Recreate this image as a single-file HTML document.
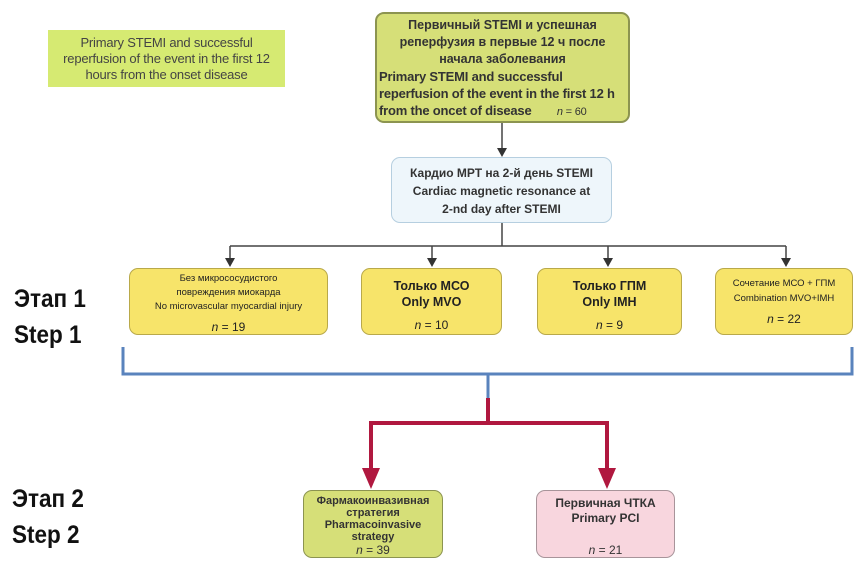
<!DOCTYPE html>
<html><head><meta charset="utf-8"><style>
body{margin:0;background:#fff;width:859px;height:572px;position:relative;overflow:hidden;font-family:"Liberation Sans","DejaVu Sans",sans-serif;}
.b{position:absolute;box-sizing:border-box;border-radius:9px;text-align:center;color:#222;}
.t{position:absolute;font-weight:bold;color:#111;font-size:25px;line-height:36px;transform:scaleX(0.9);transform-origin:left;}
</style></head><body>
<svg width="859" height="572" style="position:absolute;left:0;top:0">
<g stroke="#444" stroke-width="1.5" fill="none">
<line x1="502" y1="123" x2="502" y2="150"/>
<line x1="502" y1="223" x2="502" y2="246"/>
<line x1="230" y1="246" x2="786" y2="246"/>
<line x1="230" y1="246" x2="230" y2="260"/>
<line x1="432" y1="246" x2="432" y2="260"/>
<line x1="608" y1="246" x2="608" y2="260"/>
<line x1="786" y1="246" x2="786" y2="260"/>
</g>
<g fill="#333">
<path d="M497,148 L507,148 L502,157 Z"/>
<path d="M225,258 L235,258 L230,267 Z"/>
<path d="M427,258 L437,258 L432,267 Z"/>
<path d="M603,258 L613,258 L608,267 Z"/>
<path d="M781,258 L791,258 L786,267 Z"/>
</g>
<path d="M123,347 V374 H852 V347" stroke="#5a83bd" stroke-width="3" fill="none"/>
<line x1="488" y1="374" x2="488" y2="398" stroke="#5a83bd" stroke-width="3"/>
<path d="M488,398 V423 M371,423 H607 M371,421 V472 M607,421 V472" stroke="#b0183f" stroke-width="4" fill="none"/>
<path d="M362,468 L380,468 L371,489 Z M598,468 L616,468 L607,489 Z" fill="#b0183f"/>
</svg>
<div class="b" style="left:48px;top:30px;width:237px;height:57px;background:#d6ea72;border-radius:0;font-size:13px;line-height:16px;padding-top:5px;color:#444;letter-spacing:-0.2px">Primary STEMI and successful<br>reperfusion of the event in the first 12<br>hours from the onset disease</div>
<div class="b" style="left:375px;top:12px;width:255px;height:111px;background:#d6df78;border:2px solid #8c9450;font-size:12.5px;font-weight:bold;line-height:17px;padding-top:3px;color:#333"><div>Первичный STEMI и успешная<br>реперфузия в первые 12 ч после<br>начала заболевания</div><div style="text-align:left;padding-left:2px;font-size:13px;white-space:nowrap;letter-spacing:-0.2px">Primary STEMI and successful<br>reperfusion of the event in the first 12 h<br>from the oncet of disease <span style="font-weight:normal;margin-left:22px;font-size:11px"><i>n</i> = 60</span></div></div>
<div class="b" style="left:391px;top:157px;width:221px;height:66px;background:#eef6fb;border:1.5px solid #b6cfe0;font-size:12px;font-weight:bold;line-height:18px;padding-top:6px;color:#333">Кардио МРТ на 2-й день STEMI<br>Cardiac magnetic resonance at<br>2-nd day after STEMI</div>
<div class="b" style="left:129px;top:268px;width:199px;height:67px;background:#f7e46a;border:1.5px solid #b9a94a;font-size:9.5px;line-height:14px;padding-top:3px">Без микрососудистого<br>повреждения миокарда<br>No microvascular myocardial injury<div style="font-size:12px;margin-top:6px"><i>n</i> = 19</div></div>
<div class="b" style="left:361px;top:268px;width:141px;height:67px;background:#f7e46a;border:1.5px solid #b9a94a;font-size:12.5px;font-weight:bold;line-height:16px;padding-top:9px">Только МСО<br>Only MVO<div style="font-size:12px;font-weight:normal;margin-top:7px"><i>n</i> = 10</div></div>
<div class="b" style="left:537px;top:268px;width:145px;height:67px;background:#f7e46a;border:1.5px solid #b9a94a;font-size:12.5px;font-weight:bold;line-height:16px;padding-top:9px">Только ГПМ<br>Only IMH<div style="font-size:12px;font-weight:normal;margin-top:7px"><i>n</i> = 9</div></div>
<div class="b" style="left:715px;top:268px;width:138px;height:67px;background:#f7e46a;border:1.5px solid #b9a94a;font-size:9.5px;line-height:15px;padding-top:7px">Сочетание МСО + ГПМ<br>Combination MVO+IMH<div style="font-size:12px;margin-top:6px"><i>n</i> = 22</div></div>
<div class="b" style="left:303px;top:490px;width:140px;height:68px;background:#d6df78;border:1.5px solid #8c9450;font-size:11px;font-weight:bold;line-height:12px;padding-top:4px;color:#333">Фармакоинвазивная<br>стратегия<br>Pharmacoinvasive<br>strategy<div style="font-weight:normal;font-size:12px;margin-top:1px"><i>n</i> = 39</div></div>
<div class="b" style="left:536px;top:490px;width:139px;height:68px;background:#f8d6de;border:1.5px solid #a8949a;font-size:12px;font-weight:bold;line-height:15px;padding-top:5px;color:#333">Первичная ЧТКА<br>Primary PCI<div style="font-weight:normal;margin-top:17px"><i>n</i> = 21</div></div>
<div class="t" style="left:14px;top:281px">Этап 1<br>Step 1</div>
<div class="t" style="left:12px;top:481px">Этап 2<br>Step 2</div>
</body></html>
